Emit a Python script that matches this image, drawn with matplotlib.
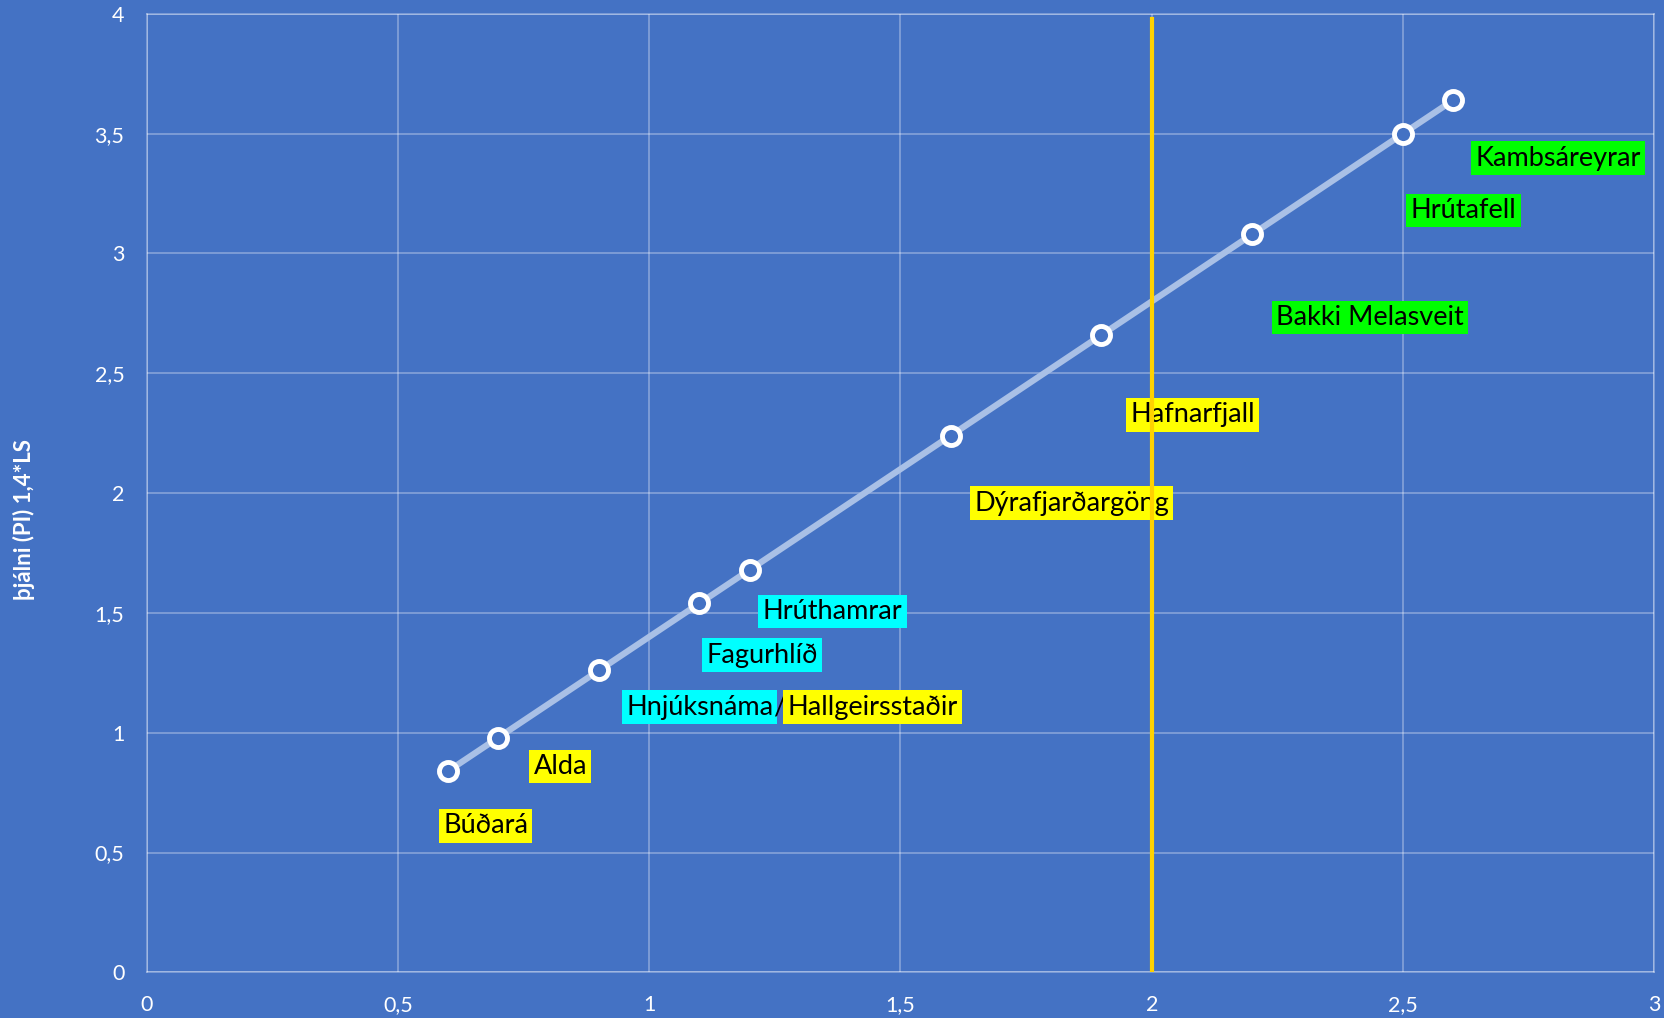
import matplotlib.pyplot as plt
from matplotlib.ticker import FuncFormatter

plt.rcParams['font.family'] = ['Lato', 'DejaVu Sans']

# LS values and plasticity index (PI = 1.4*LS)
ls = [0.6, 0.7, 0.9, 1.1, 1.2, 1.6, 1.9, 2.2, 2.5, 2.6]
pi = [0.84, 0.98, 1.26, 1.54, 1.68, 2.24, 2.66, 3.08, 3.5, 3.64]

# site names, one or two per point, with highlight colours
names = [["Búðará"], ["Alda"], ["Hnjúksnáma", "Hallgeirsstaðir"], ["Fagurhlíð"],
         ["Hrúthamrar"], ["Dýrafjarðargöng"], ["Hafnarfjall"], ["Bakki Melasveit"],
         ["Hrútafell"], ["Kambsáreyrar"]]
colors = [["#FFFF00"], ["#FFFF00"], ["#00FFFF", "#FFFF00"], ["#00FFFF"],
          ["#00FFFF"], ["#FFFF00"], ["#FFFF00"], ["#00FF00"],
          ["#00FF00"], ["#00FF00"]]

# where the label boxes sit (left edge, centre) in data units
label_pos = [(0.59, 0.611), (0.77, 0.859), (0.954, 1.107), (1.114, 1.324),
             (1.226, 1.506), (1.647, 1.958), (1.957, 2.326), (2.247, 2.733),
             (2.515, 3.180), (2.644, 3.398)]

limit_ls = 2.0

bg = "#4472C4"
fig = plt.figure(figsize=(16.65, 10.18), dpi=100, facecolor=bg)
ax = fig.add_axes([0.088, 0.0448, 0.9056, 0.9416])
ax.set_facecolor(bg)

ax.set_xlim(0, 3)
ax.set_ylim(0, 4)
ax.set_xticks([0, 0.5, 1, 1.5, 2, 2.5, 3])
ax.set_yticks([0, 0.5, 1, 1.5, 2, 2.5, 3, 3.5, 4])
fmt = FuncFormatter(lambda v, p: ("%g" % v).replace(".", ","))
ax.xaxis.set_major_formatter(fmt)
ax.yaxis.set_major_formatter(fmt)
ax.tick_params(length=0, colors="white", labelsize=15.5)
ax.tick_params(axis="x", pad=16)
ax.tick_params(axis="y", pad=16)
ax.grid(True, color="#FFFFFF", alpha=0.35, linewidth=1.2)
for s in ax.spines.values():
    s.set_color((1, 1, 1, 0.35))
    s.set_linewidth(1.2)
ax.set_axisbelow(True)

ax.plot(ls, pi, color="#A9C0E6", linewidth=4.5, zorder=3,
        marker="o", markersize=13, markerfacecolor=bg,
        markeredgecolor="white", markeredgewidth=3.5)

box = "square,pad=0.16"
for (x0, y0), nm, cl in zip(label_pos, names, colors):
    t = ax.text(x0, y0, nm[0], ha="left", va="center", fontsize=19.5, color="black",
                bbox=dict(boxstyle=box, facecolor=cl[0], edgecolor="none"),
                zorder=4)
    for extra, ec in zip(nm[1:], cl[1:]):
        sl = ax.annotate("/", xy=(1, 0.5), xycoords=t, xytext=(0, 0),
                         textcoords="offset points", ha="left", va="center",
                         fontsize=19.5, color="black", zorder=4)
        t = ax.annotate(extra, xy=(1, 0.5), xycoords=sl, xytext=(1.5, 0),
                        textcoords="offset points", ha="left", va="center",
                        fontsize=19.5, color="black", zorder=4,
                        bbox=dict(boxstyle=box, facecolor=ec, edgecolor="none"))

ax.plot([limit_ls, limit_ls], [0, 3.98], color="#FFD200", linewidth=3, zorder=5)

fig.text(0.0144, 0.49, "þjálni (PI) 1,4*LS", rotation=90, ha="center", va="center",
         color="white", fontsize=16, fontweight="bold")

fig.savefig("out.png", dpi=100, facecolor=bg)
